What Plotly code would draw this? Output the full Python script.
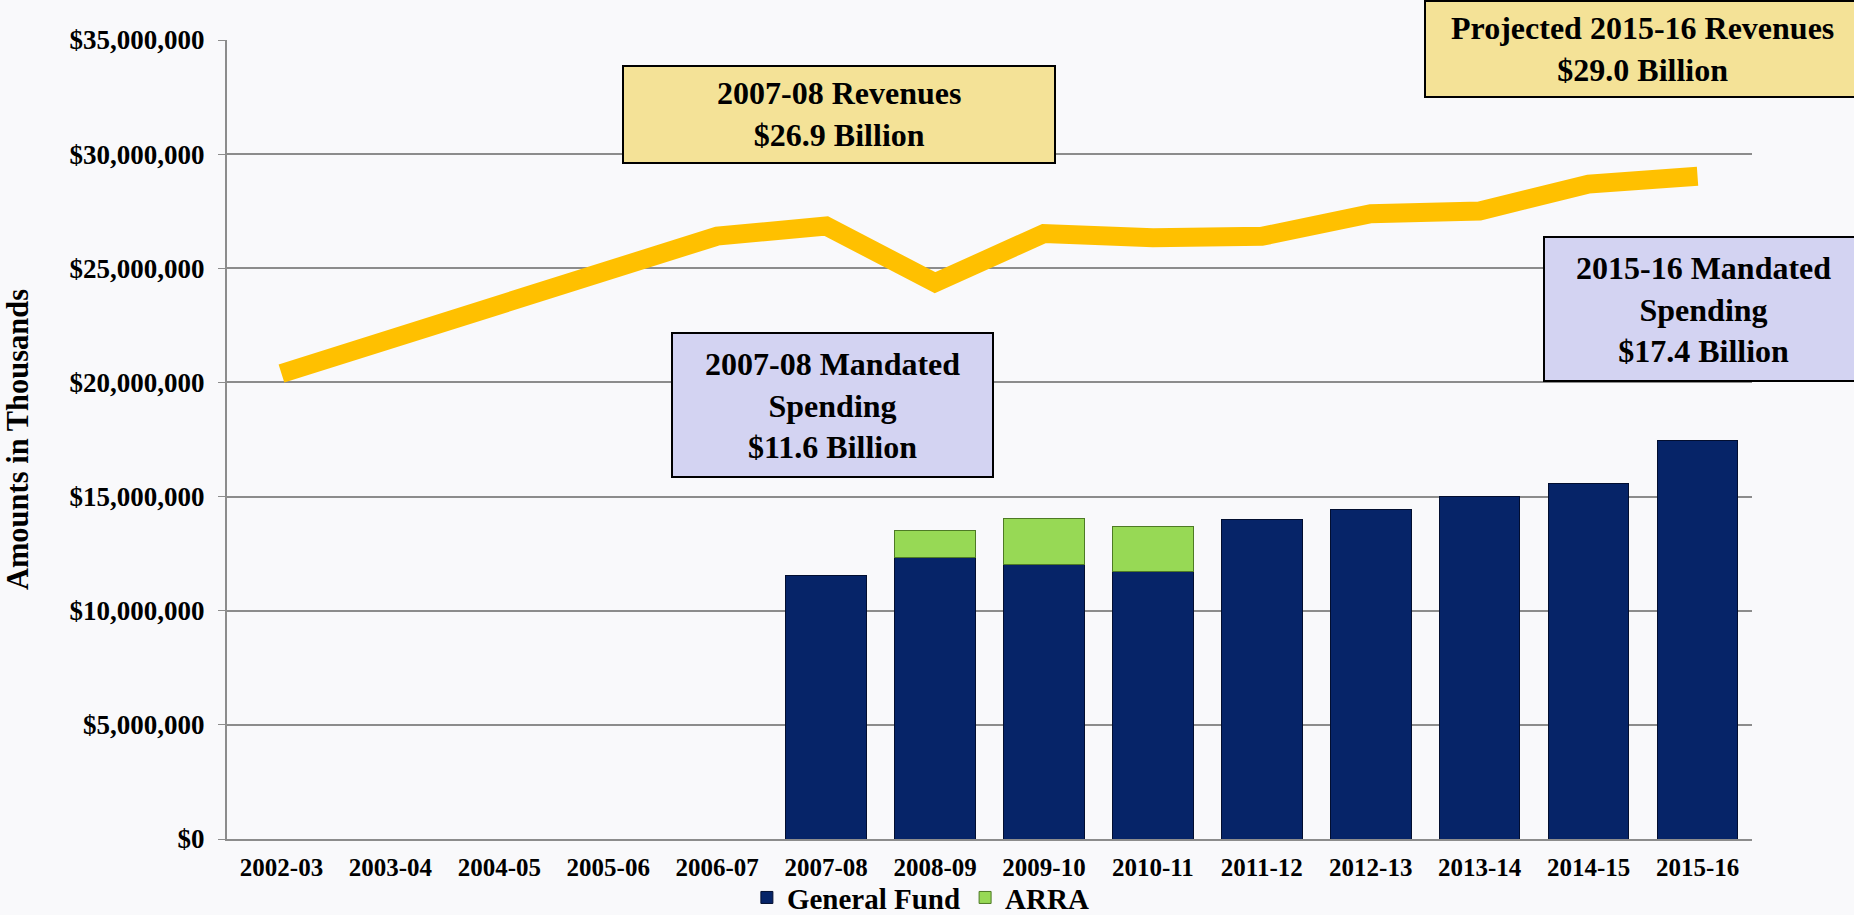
import plotly.graph_objects as go

years = ["2002-03", "2003-04", "2004-05", "2005-06", "2006-07", "2007-08", "2008-09",
         "2009-10", "2010-11", "2011-12", "2012-13", "2013-14", "2014-15", "2015-16"]
revenues = [20.39e6, 21.9e6, 23.41e6, 24.93e6, 26.41e6, 26.85e6, 24.37e6,
            26.52e6, 26.34e6, 26.40e6, 27.39e6, 27.51e6, 28.69e6, 29.03e6]
general_fund = [None, None, None, None, None, 11.55e6, 12.32e6,
                12.03e6, 11.73e6, 14.01e6, 14.42e6, 14.99e6, 15.56e6, 17.47e6]
arra = [None, None, None, None, None, None, 1.20e6,
        2.01e6, 1.97e6, None, None, None, None, None]
y_ticks = [0, 5e6, 10e6, 15e6, 20e6, 25e6, 30e6, 35e6]

callouts = [
    ("2007-08 Revenues<br>$26.9 Billion", "#F4E297"),
    ("Projected 2015-16 Revenues<br>$29.0 Billion", "#F4E297"),
    ("2015-16 Mandated<br>Spending<br>$17.4 Billion", "#D3D3F2"),
    ("2007-08 Mandated<br>Spending<br>$11.6 Billion", "#D3D3F2"),
]

FONT = "Liberation Serif, Times New Roman, serif"
W, H = 1854, 915
L, R, T, B = 227, 1752, 40, 839


def xp(px):
    return (px - L) / (R - L)


def yp(py):
    return (B - py) / (B - T)


# box pixel geometry for callouts (x0, y0, x1, y1)
boxes = [(623, 66, 1055, 163), (1425, 1, 1860, 97), (1544, 237, 1862, 381), (672, 333, 993, 477)]

fig = go.Figure()
fig.add_trace(go.Bar(x=years, y=general_fund, name="General Fund",
                     marker=dict(color="#062468", line=dict(color="#020E30", width=1))))
fig.add_trace(go.Bar(x=years, y=arra, name="ARRA",
                     marker=dict(color="#97D955", line=dict(color="#4E7A25", width=1))))
fig.add_trace(go.Scatter(x=years, y=revenues, mode="lines", showlegend=False,
                         line=dict(color="#FFC000", width=19)))

shapes = []
annotations = []
for (text, col), (x0, y0, x1, y1) in zip(callouts, boxes):
    shapes.append(dict(type="rect", xref="paper", yref="paper",
                       x0=xp(x0), x1=xp(x1), y0=yp(y1), y1=yp(y0),
                       fillcolor=col, line=dict(color="#000000", width=2), layer="above"))
    annotations.append(dict(xref="paper", yref="paper", x=xp((x0 + x1) / 2), y=yp((y0 + y1) / 2),
                            text=text, showarrow=False, xanchor="center", yanchor="middle",
                            font=dict(family=FONT, size=32, color="#000000", weight="bold")))

fig.update_layout(
    width=W, height=H,
    margin=dict(l=L, r=W - R, t=T, b=H - B, pad=0, autoexpand=False),
    paper_bgcolor="#F9F9FB", plot_bgcolor="#F9F9FB",
    barmode="stack", bargap=0.26,
    shapes=shapes, annotations=annotations,
    legend=dict(orientation="h", xref="paper", x=0.455, xanchor="center",
                yref="container", y=0.019, yanchor="middle", traceorder="normal",
                font=dict(family=FONT, size=29, color="#000000", weight="bold"),
                bgcolor="rgba(0,0,0,0)", itemwidth=30, tracegroupgap=0),
    xaxis=dict(type="category", showgrid=False, ticks="", showline=True, linecolor="#8C8C8C",
               linewidth=2, ticklabelstandoff=5, automargin=False,
               tickfont=dict(family=FONT, size=25, color="#000000", weight="bold")),
    yaxis=dict(range=[0, 35e6], tickvals=y_ticks, tickformat="$,.0f", showgrid=True,
               gridcolor="#8C8C8C", gridwidth=1.5, showline=True, linecolor="#8C8C8C",
               linewidth=2, ticks="outside", ticklen=7, tickcolor="#8C8C8C", zeroline=False,
               ticklabelstandoff=8, automargin=False,
               tickfont=dict(family=FONT, size=27, color="#000000", weight="bold"),
               title=dict(text="Amounts in Thousands", standoff=32,
                          font=dict(family=FONT, size=30.5, color="#000000", weight="bold"))),
)

fig.write_html("out.html", post_script="document.body.style.margin='0';",
               config={"displayModeBar": False})
